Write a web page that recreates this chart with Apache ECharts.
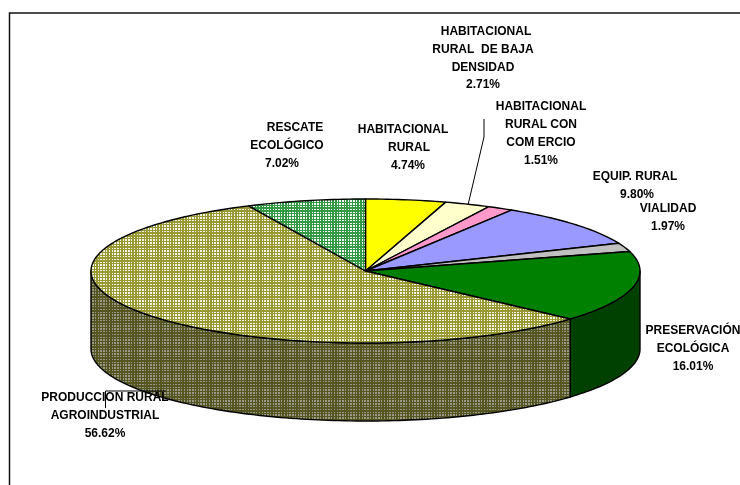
<!DOCTYPE html>
<html>
<head>
<meta charset="utf-8">
<style>html,body{margin:0;padding:0;background:#fff}#c{width:740px;height:485px}</style>
<script src="https://cdn.jsdelivr.net/npm/echarts@6/dist/echarts.min.js"></script>
</head>
<body>
<div id="c"></div>
<script>
// Data, clockwise from 12 o'clock
var categories = ['HABITACIONAL RURAL','HABITACIONAL RURAL  DE BAJA DENSIDAD','HABITACIONAL RURAL CON COM ERCIO','EQUIP. RURAL','VIALIDAD','PRESERVACIÓN ECOLÓGICA','PRODUCCION RURAL AGROINDUSTRIAL','RESCATE ECOLÓGICO'];
var percents = [4.74, 2.71, 1.51, 9.80, 1.97, 16.01, 56.62, 7.02];
var labelLines = [
  ['HABITACIONAL','RURAL'],
  ['HABITACIONAL','RURAL  DE BAJA','DENSIDAD'],
  ['HABITACIONAL','RURAL CON','COM ERCIO'],
  ['EQUIP. RURAL'],
  ['VIALIDAD'],
  ['PRESERVACIÓN','ECOLÓGICA'],
  ['PRODUCCION RURAL','AGROINDUSTRIAL'],
  ['RESCATE','ECOLÓGICO']
];
// Layout
var CX = 365.5, CY = 271, RX = 274.5, RY = 72, DEPTH = 78;
var labelX = [[403,409,408],[486,483,483,483],[541,541,541,541],[635,637],[668,668],[693,693,693],[105,105,105],[295,287,282]];
var labelY = [130,32,107,177,209,331,398,128];
var labelStep = [18,17.7,18,17.5,17.5,18,18,18];

function tile(a, b) {
  var n = 100, k = 0.72, cv = document.createElement('canvas');
  cv.width = n; cv.height = n;
  var g = cv.getContext('2d');
  function on(v){return Math.floor(v * k + 1e-6) % 2 === 0;}
  for (var y = 0; y < n; y++) for (var x = 0; x < n; x++) {
    g.fillStyle = (on(x) && on(y)) ? b : a;
    g.fillRect(x, y, 1, 1);
  }
  return {image: cv, repeat: 'repeat'};
}
var topFill = ['#ffff00','#ffffcc','#ff99cc','#9999ff','#c0c0c0','#008000', tile('#999933','#f4f4e4'), tile('#339945','#f4fbf4')];
var wallFill = {5:'#004000', 6: tile('#555522','#999988')};

var total = percents.reduce(function(s,v){return s+v;},0);
var cum = [0];
percents.forEach(function(v,i){cum.push(cum[i]+v);});
function ang(v){return v/total*Math.PI*2;}
function pt(t,dy){return [CX+RX*Math.sin(t), CY-RY*Math.cos(t)+(dy||0)];}
function arc(a,b,dy){
  var pts=[], n=Math.max(2,Math.ceil((b-a)/0.02));
  for(var i=0;i<=n;i++) pts.push(pt(a+(b-a)*i/n,dy));
  return pts;
}
var edge = {stroke:'#000', lineWidth:1.4, lineJoin:'round'};
function poly(points, fill){
  return {type:'polygon', shape:{points:points}, style:Object.assign({fill:fill},edge)};
}
function renderSlice(params, api){
  var i = params.dataIndex, a = ang(cum[i]), b = a + ang(api.value(0));
  var kids = [];
  var lo = Math.max(a, Math.PI/2), hi = Math.min(b, Math.PI*1.5);
  if (hi > lo) kids.push(poly(arc(lo,hi,0).concat(arc(lo,hi,DEPTH).reverse()), wallFill[i]||topFill[i]));
  kids.push(poly([[CX,CY]].concat(arc(a,b,0)), topFill[i]));
  return {type:'group', children:kids};
}
function renderLabel(params, api){
  var i = params.dataIndex;
  var lines = labelLines[i].concat([percents[i].toFixed(2)+'%']);
  return {type:'group', children:lines.map(function(t,j){
    return {type:'text', style:{text:t, x:labelX[i][j], y:labelY[i]+j*labelStep[i], textAlign:'center', textVerticalAlign:'middle',
      fill:'#000', font:'bold 12px "Liberation Sans", Arial, sans-serif'}};
  })};
}
var rows = percents.map(function(v,i){return {name:categories[i], value:[v]};});
var chart = echarts.init(document.getElementById('c'), null, {renderer:'canvas'});
chart.setOption({
  animation:false,
  backgroundColor:'#fff',
  graphic:[
    {type:'polyline', z:1, shape:{points:[[9.5,485],[9.5,13],[740,13]]}, style:{stroke:'#111',lineWidth:1.5,fill:null}},
    {type:'polyline', z:10, shape:{points:[[484,119],[484,137],[468,205]]}, style:{stroke:'#000',lineWidth:1,fill:null}},
    {type:'polyline', z:10, shape:{points:[[105.5,408],[105.5,391],[166,391]]}, style:{stroke:'#000',lineWidth:1,fill:null}}
  ],
  series:[
    {type:'custom', coordinateSystem:'none', silent:true, z:2, renderItem:renderSlice, data:rows},
    {type:'custom', coordinateSystem:'none', silent:true, z:3, renderItem:renderLabel, data:rows}
  ]
});
</script>
</body>
</html>
